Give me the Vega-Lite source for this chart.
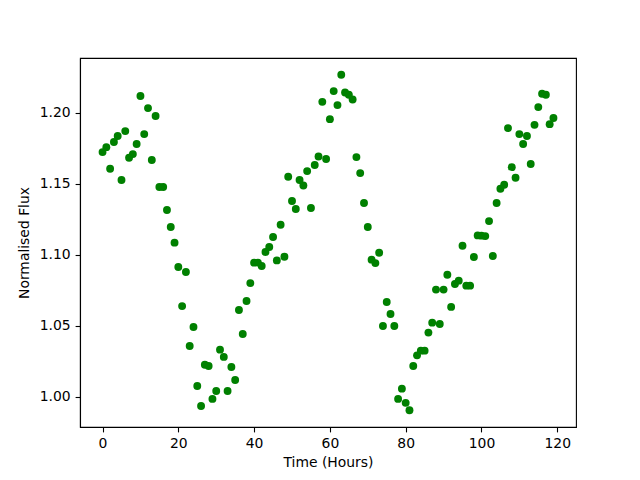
{
  "$schema": "https://vega.github.io/schema/vega-lite/v6.json",
  "autosize": {"type": "none"},
  "width": 496,
  "height": 369,
  "padding": {"left": 80, "top": 58, "right": 64, "bottom": 53},
  "background": "white",
  "config": {
    "font": "DejaVu Sans",
    "view": {"stroke": "black", "strokeWidth": 1.1},
    "axis": {
      "grid": false,
      "domainColor": "black",
      "domainWidth": 1.1,
      "tickColor": "black",
      "tickWidth": 1.1,
      "tickSize": 4.9,
      "labelPadding": 4.9,
      "labelFontSize": 13.9,
      "labelColor": "black",
      "labelFont": "DejaVu Sans",
      "titleFont": "DejaVu Sans",
      "titleFontSize": 13.9,
      "titleFontWeight": "normal",
      "titleColor": "black"
    }
  },
  "data": {
    "values": [
      {"t": 0, "f": 1.1723}, {"t": 1, "f": 1.1758}, {"t": 2, "f": 1.1606}, {"t": 3, "f": 1.1794},
      {"t": 4, "f": 1.1836}, {"t": 5, "f": 1.1526}, {"t": 6, "f": 1.1871}, {"t": 7, "f": 1.1683},
      {"t": 8, "f": 1.1709}, {"t": 9, "f": 1.178}, {"t": 10, "f": 1.2118}, {"t": 11, "f": 1.185},
      {"t": 12, "f": 1.2033}, {"t": 13, "f": 1.1667}, {"t": 14, "f": 1.1977}, {"t": 15, "f": 1.1477},
      {"t": 16, "f": 1.1477}, {"t": 17, "f": 1.1315}, {"t": 18, "f": 1.1195}, {"t": 19, "f": 1.1085},
      {"t": 20, "f": 1.0913}, {"t": 21, "f": 1.0638}, {"t": 22, "f": 1.0878}, {"t": 23, "f": 1.0357},
      {"t": 24, "f": 1.0491}, {"t": 25, "f": 1.0075}, {"t": 26, "f": 0.9934}, {"t": 27, "f": 1.0225},
      {"t": 28, "f": 1.0216}, {"t": 29, "f": 0.9984}, {"t": 30, "f": 1.004}, {"t": 31, "f": 1.0331},
      {"t": 32, "f": 1.028}, {"t": 33, "f": 1.004}, {"t": 34, "f": 1.0209}, {"t": 35, "f": 1.0117},
      {"t": 36, "f": 1.061}, {"t": 37, "f": 1.0441}, {"t": 38, "f": 1.0674}, {"t": 39, "f": 1.08},
      {"t": 40, "f": 1.0944}, {"t": 41, "f": 1.0944}, {"t": 42, "f": 1.092}, {"t": 43, "f": 1.1019},
      {"t": 44, "f": 1.1054}, {"t": 45, "f": 1.1125}, {"t": 46, "f": 1.096}, {"t": 47, "f": 1.1211},
      {"t": 48, "f": 1.0986}, {"t": 49, "f": 1.1549}, {"t": 50, "f": 1.1378}, {"t": 51, "f": 1.1322},
      {"t": 52, "f": 1.1526}, {"t": 53, "f": 1.1488}, {"t": 54, "f": 1.1589}, {"t": 55, "f": 1.1329},
      {"t": 56, "f": 1.1632}, {"t": 57, "f": 1.1692}, {"t": 58, "f": 1.2077}, {"t": 59, "f": 1.1674},
      {"t": 60, "f": 1.1955}, {"t": 61, "f": 1.2153}, {"t": 62, "f": 1.2054}, {"t": 63, "f": 1.2268},
      {"t": 64, "f": 1.2143}, {"t": 65, "f": 1.2127}, {"t": 66, "f": 1.2094}, {"t": 67, "f": 1.1688},
      {"t": 68, "f": 1.1575}, {"t": 69, "f": 1.1364}, {"t": 70, "f": 1.1195}, {"t": 71, "f": 1.0965},
      {"t": 72, "f": 1.0941}, {"t": 73, "f": 1.1014}, {"t": 74, "f": 1.0498}, {"t": 75, "f": 1.0667},
      {"t": 76, "f": 1.0582}, {"t": 77, "f": 1.0498}, {"t": 78, "f": 0.9984}, {"t": 79, "f": 1.0056},
      {"t": 80, "f": 0.9956}, {"t": 81, "f": 0.9904}, {"t": 82, "f": 1.0216}, {"t": 83, "f": 1.0291},
      {"t": 84, "f": 1.0324}, {"t": 85, "f": 1.0324}, {"t": 86, "f": 1.0451}, {"t": 87, "f": 1.0521},
      {"t": 88, "f": 1.0754}, {"t": 89, "f": 1.0512}, {"t": 90, "f": 1.0754}, {"t": 91, "f": 1.0859},
      {"t": 92, "f": 1.0632}, {"t": 93, "f": 1.0794}, {"t": 94, "f": 1.0817}, {"t": 95, "f": 1.1063},
      {"t": 96, "f": 1.0782}, {"t": 97, "f": 1.0782}, {"t": 98, "f": 1.0984}, {"t": 99, "f": 1.1136},
      {"t": 100, "f": 1.1134}, {"t": 101, "f": 1.1131}, {"t": 102, "f": 1.1237}, {"t": 103, "f": 1.0991},
      {"t": 104, "f": 1.1364}, {"t": 105, "f": 1.1465}, {"t": 106, "f": 1.1493}, {"t": 107, "f": 1.1892},
      {"t": 108, "f": 1.1617}, {"t": 109, "f": 1.1542}, {"t": 110, "f": 1.185}, {"t": 111, "f": 1.178},
      {"t": 112, "f": 1.1836}, {"t": 113, "f": 1.1639}, {"t": 114, "f": 1.1915}, {"t": 115, "f": 1.204},
      {"t": 116, "f": 1.2134}, {"t": 117, "f": 1.2127}, {"t": 118, "f": 1.192}, {"t": 119, "f": 1.1963}
    ]
  },
  "mark": {"type": "circle", "color": "#008000", "opacity": 1, "size": 62},
  "encoding": {
    "x": {
      "field": "t", "type": "quantitative",
      "scale": {"domain": [-5.95, 124.95], "nice": false, "zero": false},
      "axis": {"values": [0, 20, 40, 60, 80, 100, 120], "title": "Time (Hours)", "titlePadding": 5}
    },
    "y": {
      "field": "f", "type": "quantitative",
      "scale": {"domain": [0.9786, 1.2386], "nice": false, "zero": false},
      "axis": {"values": [1.0, 1.05, 1.1, 1.15, 1.2], "format": ".2f", "title": "Normalised Flux", "titlePadding": 8}
    }
  }
}
